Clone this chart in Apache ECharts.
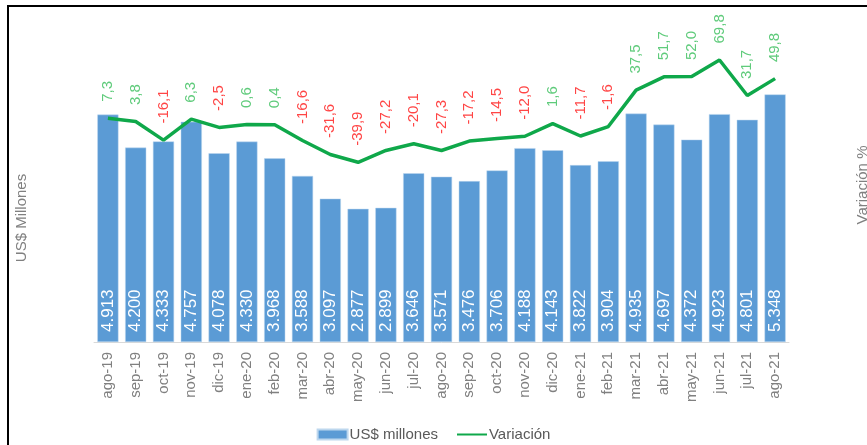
<!DOCTYPE html>
<html style="height: 100%">
<head>
  <meta charset="utf-8">
</head>
<body style="height: 100%; margin: 0; background: #fff">
  <div id="container" style="width: 867px; height: 445px"></div>
  <script type="text/javascript" src="https://cdn.jsdelivr.net/npm/echarts@6/dist/echarts.min.js"></script>
  <script type="text/javascript">
    var meses = ['ago-19', 'sep-19', 'oct-19', 'nov-19', 'dic-19', 'ene-20', 'feb-20', 'mar-20', 'abr-20',
      'may-20', 'jun-20', 'jul-20', 'ago-20', 'sep-20', 'oct-20', 'nov-20', 'dic-20', 'ene-21', 'feb-21',
      'mar-21', 'abr-21', 'may-21', 'jun-21', 'jul-21', 'ago-21'];
    var millones = [4913, 4200, 4333, 4757, 4078, 4330, 3968, 3588, 3097, 2877, 2899, 3646, 3571, 3476,
      3706, 4188, 4143, 3822, 3904, 4935, 4697, 4372, 4923, 4801, 5348];
    var variacion = [7.3, 3.8, -16.1, 6.3, -2.5, 0.6, 0.4, -16.6, -31.6, -39.9, -27.2, -20.1, -27.3, -17.2,
      -14.5, -12.0, 1.6, -11.7, -1.6, 37.5, 51.7, 52.0, 69.8, 31.7, 49.8];

    var dom = document.getElementById("container");
    var myChart = echarts.init(dom);

    function miles(v) {
      var s = String(v);
      return s.length > 3 ? s.slice(0, s.length - 3) + '.' + s.slice(s.length - 3) : s;
    }

    var option = {
      animation: false,
      textStyle: { fontFamily: 'Liberation Sans, Arial, sans-serif' },
      grid: { left: 94, right: 78, top: 18, bottom: 103 },
      graphic: [
        { type: 'rect', shape: { x: 7, y: 5, width: 862, height: 2 }, style: { fill: '#000' } },
        { type: 'rect', shape: { x: 7, y: 5, width: 2, height: 445 }, style: { fill: '#000' } },
        {
          type: 'text', x: 22, y: 218, rotation: Math.PI / 2,
          style: { text: 'US$ Millones', fill: '#808080', font: '15px Liberation Sans', align: 'center', verticalAlign: 'middle' }
        },
        {
          type: 'text', x: 863, y: 185, rotation: Math.PI / 2,
          style: { text: 'Variación %', fill: '#808080', font: '15px Liberation Sans', align: 'center', verticalAlign: 'middle' }
        }
      ],
      legend: {
        bottom: -2,
        left: 'center',
        itemWidth: 30,
        itemHeight: 10,
        itemGap: 18,
        textStyle: { color: '#595959', fontSize: 15, padding: [0, 0, 0, -3] },
        data: [
          { name: 'US$ millones', icon: 'rect' },
          { name: 'Variación', itemStyle: { color: 'transparent', borderColor: 'transparent', borderWidth: 0 } }
        ]
      },
      xAxis: {
        type: 'category',
        data: meses,
        axisLine: { lineStyle: { color: '#d9d9d9' } },
        axisTick: { length: 5, lineStyle: { color: '#d9d9d9' } },
        axisLabel: { rotate: 90, color: '#808080', fontSize: 15, margin: 10, interval: 0 }
      },
      yAxis: [
        { type: 'value', min: 0, max: 7000, show: false },
        { type: 'value', min: -232.6, max: 114.8, show: false }
      ],
      series: [
        {
          name: 'US$ millones',
          type: 'bar',
          data: millones,
          barCategoryGap: '24%',
          itemStyle: { color: '#5b9bd5', borderColor: '#bdd7ee', borderWidth: 0.5 },
          label: {
            show: true,
            position: 'insideBottom',
            rotate: 90,
            align: 'left',
            verticalAlign: 'middle',
            distance: 10,
            color: '#fff',
            fontSize: 17,
            formatter: function (p) { return miles(p.value); }
          }
        },
        {
          name: 'Variación',
          type: 'line',
          yAxisIndex: 1,
          data: variacion,
          symbol: 'none',
          lineStyle: { color: '#0fa84a', width: 3.5 },
          itemStyle: { color: '#0fa84a' }
        },
        {
          name: 'etiquetas',
          type: 'line',
          yAxisIndex: 1,
          symbol: 'circle',
          symbolSize: 1,
          lineStyle: { width: 0, color: 'transparent' },
          itemStyle: { color: 'transparent', borderWidth: 0 },
          data: variacion.map(function (v) {
            return { value: v, label: { color: v >= 0 ? '#5fcb7b' : '#ff4545' } };
          }),
          label: {
            show: true,
            position: 'top',
            rotate: 90,
            align: 'left',
            verticalAlign: 'middle',
            distance: 16,
            fontSize: 15,
            formatter: function (p) { return p.value.toFixed(1).replace('.', ','); }
          }
        }
      ]
    };

    myChart.setOption(option);
  </script>
</body>
</html>
